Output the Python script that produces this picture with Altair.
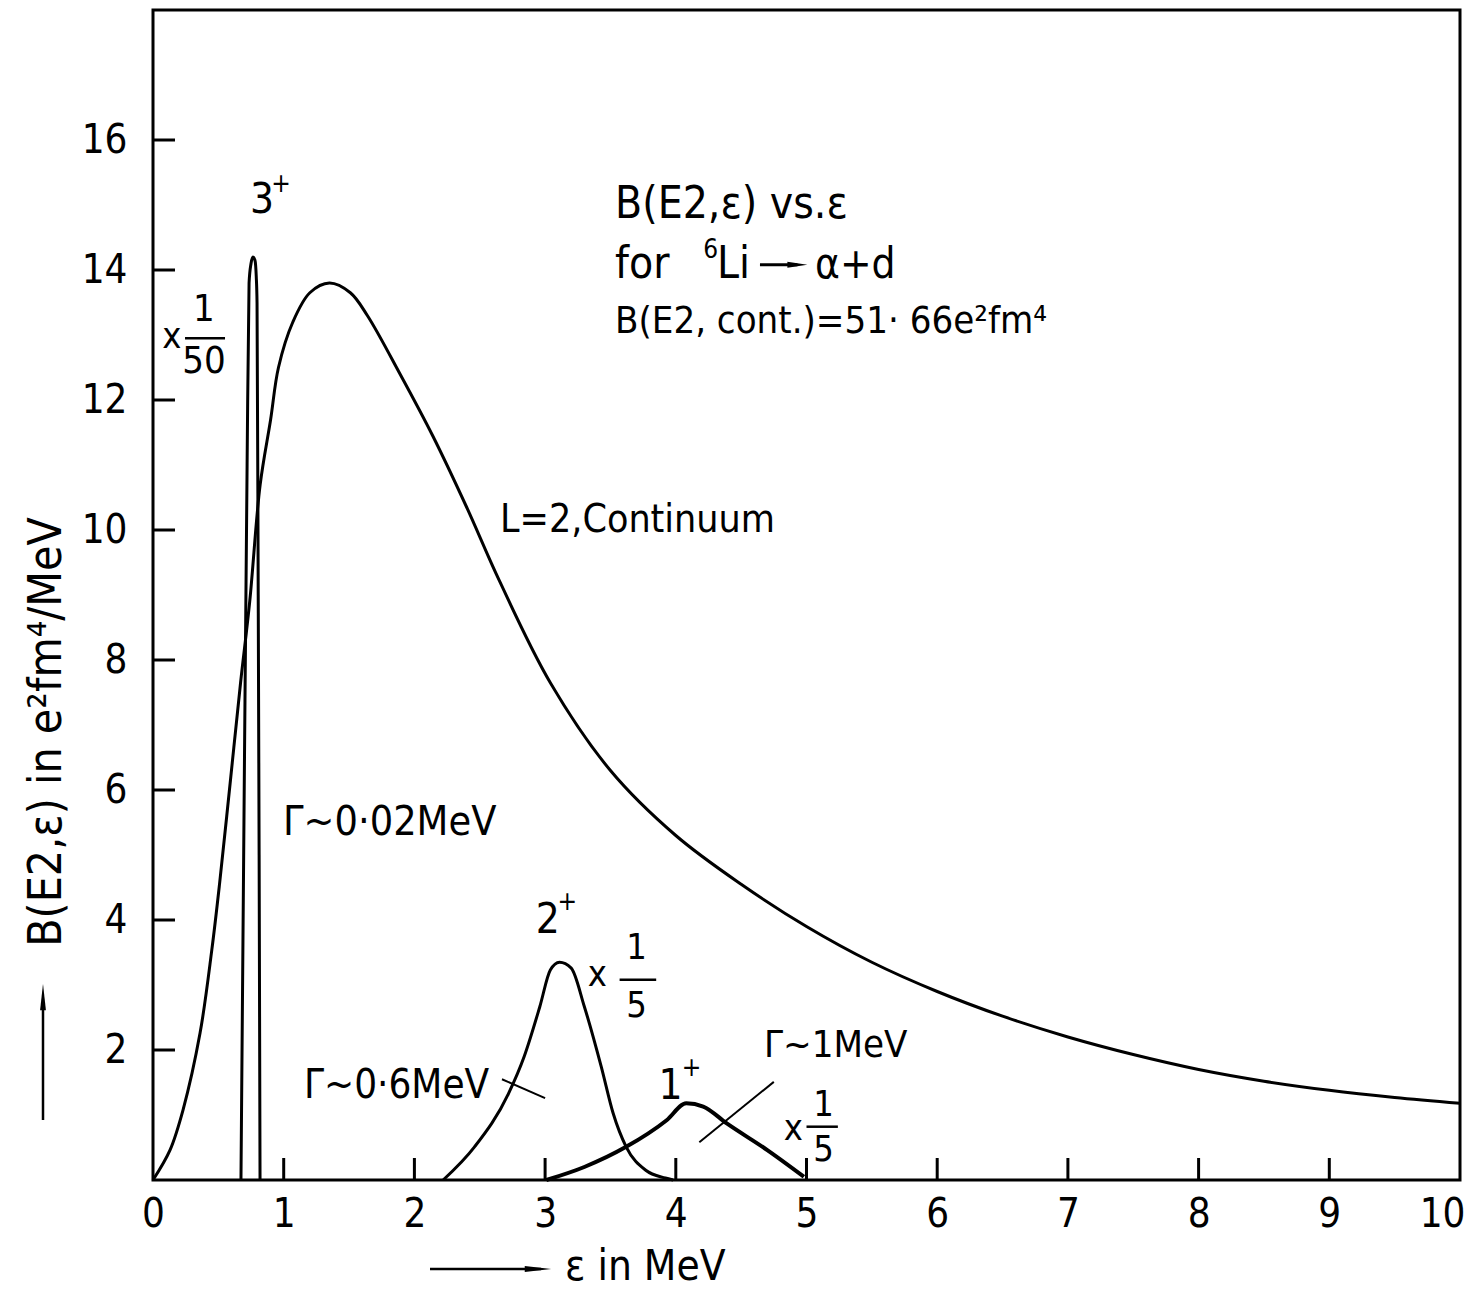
import altair as alt
import pandas as pd

FONT = "Liberation Sans Narrow, DejaVu Sans Condensed, Liberation Sans, sans-serif"
W, H = 1307, 1170

# ---- curves ----
cont_x = [0, 0.13, 0.23, 0.36, 0.45, 0.51, 0.59, 0.67, 0.74, 0.82, 0.90, 0.96, 1.07, 1.20, 1.35,
          1.51, 1.64, 1.89, 2.14, 2.40, 2.65, 3.04, 3.5, 4.0, 4.5, 5.0, 5.5, 6.0, 6.5, 7.0, 7.5,
          8.0, 8.5, 9.0, 9.5, 10.0]
cont_y = [0, 0.46, 1.08, 2.26, 3.54, 4.57, 6.1, 7.65, 8.9, 10.7, 11.7, 12.5, 13.2, 13.65, 13.8,
          13.65, 13.3, 12.4, 11.45, 10.35, 9.22, 7.65, 6.3, 5.3, 4.55, 3.9, 3.35, 2.9, 2.52, 2.2,
          1.93, 1.70, 1.52, 1.38, 1.27, 1.18]

r3_x = [0.673, 0.70, 0.72, 0.735, 0.75, 0.765, 0.78, 0.79, 0.796, 0.805, 0.812, 0.819]
r3_y = [0, 6.5, 11.0, 13.8, 14.1, 14.2, 14.15, 13.9, 13.5, 9.0, 5.0, 0]

r2_x = [2.22, 2.46, 2.72, 2.84, 2.96, 3.04, 3.11, 3.20, 3.30, 3.43, 3.52, 3.62, 3.77, 3.92, 3.98]
r2_y = [0, 0.51, 1.33, 1.9, 2.67, 3.23, 3.35, 3.26, 2.67, 1.74, 1.03, 0.51, 0.15, 0.03, 0]

r1_x = [3.01, 3.30, 3.62, 3.93, 4.08, 4.21, 4.39, 4.70, 4.98]
r1_y = [0, 0.2, 0.51, 0.92, 1.18, 1.13, 0.87, 0.46, 0.05]

x_ticks = [1, 2, 3, 4, 5, 6, 7, 8, 9]
x_labels = [0, 1, 2, 3, 4, 5, 6, 7, 8, 9, 10]
y_ticks = [2, 4, 6, 8, 10, 12, 14, 16]

# ---- annotations ----
c_text = ["3", "+", "x", "1", "50", "2", "+", "x", "1", "5", "1", "+", "x", "1", "5"]
c_x = [0.834, 0.979, 0.145, 0.39, 0.39, 3.02, 3.17, 3.40, 3.70, 3.70, 3.96, 4.12, 4.90, 5.13, 5.13]
c_y = [15.08, 15.32, 12.97, 13.38, 12.58, 4.0, 4.28, 3.15, 3.57, 2.68, 1.45, 1.72, 0.78, 1.15, 0.46]
c_size = [42, 26, 36, 38, 38, 42, 26, 36, 36, 36, 42, 26, 36, 36, 36]

l_text = ["B(E2,ε)  vs.ε", "for", "6", "Li", "α+d", "B(E2, cont.)=51· 66e²fm⁴",
          "L=2,Continuum", "Γ~0·02MeV", "Γ~0·6MeV", "Γ~1MeV"]
l_x = [3.535, 3.535, 4.21, 4.315, 5.065, 3.535, 2.655, 0.995, 1.155, 4.675]
l_y = [15.0, 14.08, 14.31, 14.08, 14.08, 13.2, 10.15, 5.49, 1.45, 2.06]
l_size = [44, 44, 26, 44, 42, 38, 39, 41, 40, 38]

bar_x1 = [0.245, 3.57, 5.0]
bar_x2 = [0.551, 3.85, 5.24]
bar_y = [12.95, 3.08, 0.82]

ptr_x1 = [2.67, 4.75]
ptr_y1 = [1.55, 1.51]
ptr_x2 = [3.00, 4.18]
ptr_y2 = [1.26, 0.58]

xs = alt.Scale(domain=[0, 10], nice=False, zero=False)
ys = alt.Scale(domain=[0, 18], nice=False, zero=False)


def curve_df(xv, yv):
    return pd.DataFrame({"x": xv, "y": yv})


x_axis = alt.Axis(values=x_labels, title=None, ticks=False, domain=False, grid=False,
                  labelFont=FONT, labelFontSize=40, labelColor="black", labelPadding=14,
                  labelFlush=False, labelOverlap=False, format="d",
                  labelAlign=alt.condition("datum.value == 10", alt.value("right"), alt.value("center")),
                  labelOffset=alt.condition("datum.value == 10", alt.value(5), alt.value(0)))
y_axis = alt.Axis(values=y_ticks, title=None, ticks=False, domain=False, grid=False,
                  labelFont=FONT, labelFontSize=40, labelColor="black", labelPadding=26,
                  labelOverlap=False, format="d")

base_line = alt.Chart(curve_df(cont_x, cont_y)).mark_line(
    color="black", strokeWidth=3, interpolate="catmull-rom").encode(
    x=alt.X("x:Q", scale=xs, axis=x_axis),
    y=alt.Y("y:Q", scale=ys, axis=y_axis))


def curve(xv, yv, sw=3, interp="catmull-rom"):
    return alt.Chart(curve_df(xv, yv)).mark_line(
        color="black", strokeWidth=sw, interpolate=interp).encode(
        x=alt.X("x:Q", scale=xs), y=alt.Y("y:Q", scale=ys))


l3 = curve(r3_x, r3_y, 3, "monotone")
l2 = curve(r2_x, r2_y, 3, "monotone")
l1 = curve(r1_x, r1_y, 4, "monotone")

xt = alt.Chart(pd.DataFrame({"x": x_ticks})).mark_rule(color="black", strokeWidth=3).encode(
    x=alt.X("x:Q", scale=xs), y=alt.value(H), y2=alt.value(H - 22))
yt = alt.Chart(pd.DataFrame({"y": y_ticks})).mark_rule(color="black", strokeWidth=3).encode(
    y=alt.Y("y:Q", scale=ys), x=alt.value(0), x2=alt.value(22))

ctext = alt.Chart(pd.DataFrame({"t": c_text, "x": c_x, "y": c_y, "s": c_size})).mark_text(
    font=FONT, color="black", align="center", baseline="middle").encode(
    x=alt.X("x:Q", scale=xs), y=alt.Y("y:Q", scale=ys), text="t:N",
    size=alt.Size("s:Q", scale=None, legend=None))
ltext = alt.Chart(pd.DataFrame({"t": l_text, "x": l_x, "y": l_y, "s": l_size})).mark_text(
    font=FONT, color="black", align="left", baseline="middle").encode(
    x=alt.X("x:Q", scale=xs), y=alt.Y("y:Q", scale=ys), text="t:N",
    size=alt.Size("s:Q", scale=None, legend=None))

bars = alt.Chart(pd.DataFrame({"x1": bar_x1, "x2": bar_x2, "y": bar_y})).mark_rule(
    color="black", strokeWidth=2.5).encode(
    x=alt.X("x1:Q", scale=xs), x2="x2:Q", y=alt.Y("y:Q", scale=ys))
ptrs = alt.Chart(pd.DataFrame({"x1": ptr_x1, "y1": ptr_y1, "x2": ptr_x2, "y2": ptr_y2})).mark_rule(
    color="black", strokeWidth=2).encode(
    x=alt.X("x1:Q", scale=xs), x2="x2:Q", y=alt.Y("y1:Q", scale=ys), y2="y2:Q")

# arrow in "6Li -> alpha+d"
li_arrow = alt.Chart(pd.DataFrame({"x1": [4.644], "x2": [4.93], "y": [14.08]})).mark_rule(
    color="black", strokeWidth=3).encode(
    x=alt.X("x1:Q", scale=xs), x2="x2:Q", y=alt.Y("y:Q", scale=ys))
li_head = alt.Chart(pd.DataFrame({"x": [4.93], "y": [14.08]})).mark_point(
    shape="M1,0L-1,0.3L-1,-0.3Z", filled=True, color="black", opacity=1, size=400).encode(
    x=alt.X("x:Q", scale=xs), y=alt.Y("y:Q", scale=ys))

one = pd.DataFrame({"a": [0]})
# axis titles
ytitle = alt.Chart(one).mark_text(font=FONT, fontSize=46, color="black", angle=270,
                                  align="center", baseline="middle",
                                  text="B(E2,ε) in e²fm⁴/MeV").encode(
    x=alt.value(-106), y=alt.value(722))
yarrow = alt.Chart(one).mark_rule(color="black", strokeWidth=2.5).encode(
    x=alt.value(-110), y=alt.value(1110), y2=alt.value(995))
yhead = alt.Chart(one).mark_point(shape="M0,-1L0.22,1L-0.22,1Z", filled=True, color="black",
                                  opacity=1, size=700).encode(
    x=alt.value(-110), y=alt.value(987))
xtitle = alt.Chart(one).mark_text(font=FONT, fontSize=42, color="black", align="left",
                                  baseline="middle", text="ε in MeV").encode(
    x=alt.value(412), y=alt.value(1257))
xarrow = alt.Chart(one).mark_rule(color="black", strokeWidth=2.5).encode(
    x=alt.value(277), x2=alt.value(388), y=alt.value(1259))
xhead = alt.Chart(one).mark_point(shape="M1,0L-1,0.22L-1,-0.22Z", filled=True, color="black",
                                  opacity=1, size=700).encode(
    x=alt.value(385), y=alt.value(1259))

chart = alt.layer(
    base_line, l3, l2, l1, xt, yt, ctext, ltext, bars, ptrs, li_arrow, li_head,
    ytitle, yarrow, yhead, xtitle, xarrow, xhead
).properties(
    width=W, height=H,
    padding={"left": 145, "top": 2, "right": 6, "bottom": 112},
    autosize=alt.AutoSizeParams(type="none"),
    background="white",
).configure_view(stroke="black", strokeWidth=3)

chart.save("out.html", embed_options={"renderer": "svg", "actions": False})
